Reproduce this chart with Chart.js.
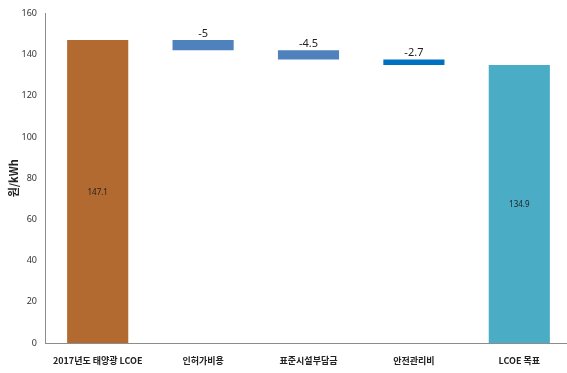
<!DOCTYPE html>
<html><head><meta charset="utf-8">
<script src="https://cdn.jsdelivr.net/npm/chart.js@4.4.0/dist/chart.umd.min.js"></script>
<style>
html,body{margin:0;padding:0;background:#fff;overflow:hidden;}
#wrap{width:572px;height:373px;position:relative;}
</style></head>
<body><div id="wrap"><canvas id="c"></canvas></div>
<script>
const categories = ['2017년도 태양광 LCOE', '인허가비용', '표준시설부담금', '안전관리비', 'LCOE 목표'];
const barLow  = [0, 142.1, 137.6, 134.9, 0];
const barHigh = [147.1, 147.1, 142.1, 137.6, 134.9];
const valueLabels = ['147.1', '-5', '-4.5', '-2.7', '134.9'];
const isTotal = [true, false, false, false, true];
const barColors = ['#B36A31', '#4F81BD', '#4F81BD', '#0070C0', '#4BACC6'];
const yTicks = [0, 20, 40, 60, 80, 100, 120, 140, 160];

const labelPlugin = {
  id: 'vlabels',
  afterDatasetsDraw(chart) {
    const ctx = chart.ctx;
    const meta = chart.getDatasetMeta(0);
    ctx.save();
    ctx.fillStyle = '#222';
    ctx.textAlign = 'center';
    meta.data.forEach((bar, i) => {
      if (isTotal[i]) {
        ctx.font = '8px "Liberation Sans Narrow", "Noto Sans", sans-serif';
        ctx.textBaseline = 'middle';
        ctx.fillText(valueLabels[i], bar.x, (bar.y + bar.base) / 2 + 1);
      } else {
        ctx.font = '11px "Liberation Sans Narrow", "Noto Sans", sans-serif';
        ctx.textBaseline = 'bottom';
        ctx.fillText(valueLabels[i], bar.x, Math.min(bar.y, bar.base) - 1);
      }
    });
    ctx.restore();
  }
};

new Chart(document.getElementById('c'), {
  type: 'bar',
  data: {
    labels: categories,
    datasets: [{
      data: barLow.map((v, i) => [v, barHigh[i]]),
      backgroundColor: barColors,
      borderWidth: 0,
      barPercentage: 1,
      categoryPercentage: 0.58
    }]
  },
  options: {
    responsive: true,
    maintainAspectRatio: false,
    animation: false,
    layout: { padding: { top: 4, right: 0, bottom: 0, left: 4 } },
    plugins: { legend: { display: false }, tooltip: { enabled: false } },
    scales: {
      x: {
        afterFit(axis) { axis.height = 30; },
        grid: { display: false, drawTicks: false },
        border: { color: '#8c8c8c', width: 1 },
        ticks: {
          color: '#222',
          padding: 12,
          font: { family: '"Noto Sans CJK KR", sans-serif', size: 9, weight: 'bold' },
          maxRotation: 0
        }
      },
      y: {
        min: 0, max: 160,
        afterFit(axis) { axis.width = 41; },
        afterBuildTicks(axis) { axis.ticks = yTicks.map(v => ({ value: v })); },
        grid: { display: false, drawTicks: false },
        border: { color: '#8c8c8c', width: 1 },
        ticks: {
          color: '#333',
          padding: 8,
          font: { family: '"Liberation Sans Narrow", "Noto Sans", sans-serif', size: 9 }
        },
        title: {
          display: true,
          text: '원/kWh',
          color: '#222',
          padding: { top: 3, bottom: 0 },
          font: { family: '"Noto Sans CJK KR", sans-serif', size: 11, weight: 'bold' }
        }
      }
    }
  },
  plugins: [labelPlugin]
});
</script></body></html>
